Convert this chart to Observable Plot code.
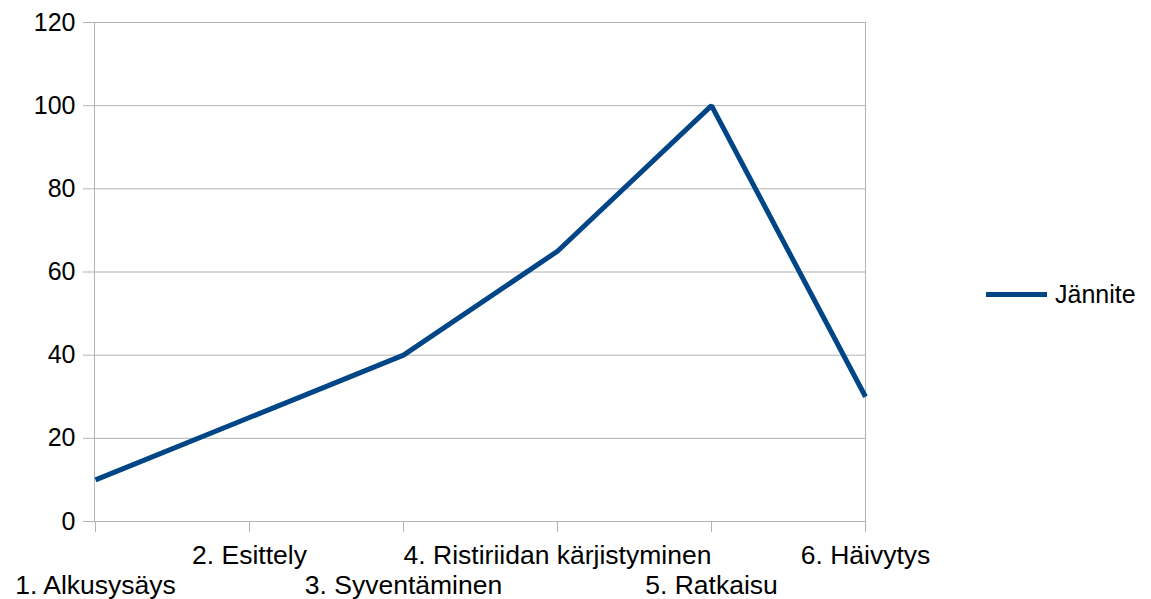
<!DOCTYPE html>
<html>
<head>
<meta charset="utf-8">
<script src="https://cdn.jsdelivr.net/npm/d3@7"></script>
<script src="https://cdn.jsdelivr.net/npm/@observablehq/plot@0.6"></script>
<style>
  body { margin: 0; background: #fff; font-family: "Liberation Sans", Arial, sans-serif; }
  #wrap { position: relative; width: 1151px; height: 599px; }
  #legend { position: absolute; left: 986px; top: 279px; height: 30px; display: flex; align-items: center; font-size: 25px; color: #000; }
  #legend .sw { display: inline-block; width: 61px; height: 5px; background: #004586; margin-right: 8px; }
</style>
</head>
<body>
<div id="wrap">
  <div id="chart"></div>
  <div id="legend"><span class="sw"></span><span>Jännite</span></div>
</div>
<script>
const categories = ["1. Alkusysäys", "2. Esittely", "3. Syventäminen", "4. Ristiriidan kärjistyminen", "5. Ratkaisu", "6. Häivytys"];
const values = [10, 25, 40, 65, 100, 30];
const seriesName = "Jännite";
const yTicks = [0, 20, 40, 60, 80, 100, 120];

const data = categories.map((c, i) => ({cat: c, value: values[i]}));
const lowerRow = categories.filter((c, i) => i % 2 === 0);
const upperRow = categories.filter((c, i) => i % 2 === 1);

const grid = "#b3b3b3";
const chart = Plot.plot({
  width: 1151,
  height: 599,
  marginLeft: 94,
  marginRight: 286,
  marginTop: 22,
  marginBottom: 78,
  style: {fontFamily: "'Liberation Sans', Arial, sans-serif", fontSize: "25px", color: "#000", background: "#fff"},
  x: {type: "point", domain: categories, padding: 0},
  y: {domain: [0, 120]},
  marks: [
    Plot.gridY(yTicks, {stroke: grid, strokeOpacity: 1}),
    Plot.frame({stroke: grid}),
    Plot.axisY(yTicks, {tickSize: 11, tickPadding: 8, stroke: grid, strokeOpacity: 1, label: null, fill: "#000"}),
    Plot.axisX({tickSize: 11, stroke: grid, strokeOpacity: 1, text: null, label: null}),
    Plot.axisX(upperRow, {tickSize: 0, tickPadding: 24, label: null, fill: "#000", fontSize: 26.5}),
    Plot.axisX(lowerRow, {tickSize: 0, tickPadding: 54, label: null, fill: "#000", fontSize: 26.5}),
    Plot.line(data, {x: "cat", y: "value", stroke: "#004586", strokeWidth: 5, strokeLinejoin: "miter", strokeLinecap: "butt"})
  ]
});
document.getElementById("chart").appendChild(chart);
</script>
</body>
</html>
